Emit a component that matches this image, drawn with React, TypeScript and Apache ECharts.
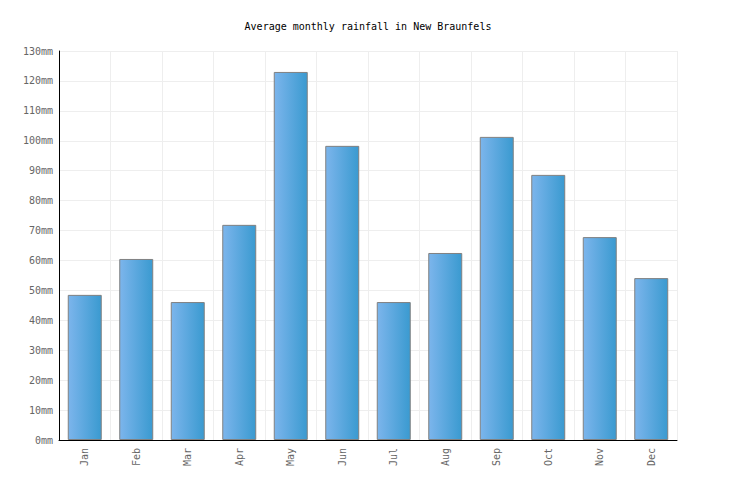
import React, { useEffect, useRef } from "react";
import * as echarts from "echarts";

const months = ["Jan", "Feb", "Mar", "Apr", "May", "Jun", "Jul", "Aug", "Sep", "Oct", "Nov", "Dec"];
const rainfall = [48.5, 60.5, 46.1, 71.9, 123, 98.3, 46.1, 62.5, 101.3, 88.6, 67.8, 54.1];
const yMin = 0;
const yMax = 130;
const yStep = 10;

export default function App() {
  const ref = useRef<HTMLDivElement>(null);
  useEffect(() => {
    if (!ref.current) return;
    const chart = echarts.init(ref.current, null, { renderer: "svg" });
    const font = "DejaVu Sans Mono";
    chart.setOption({
      animation: false,
      backgroundColor: "#ffffff",
      title: {
        text: "Average monthly rainfall in New Braunfels",
        left: "center",
        top: 16,
        textStyle: { fontFamily: font, fontSize: 10, fontWeight: "normal", color: "#000" },
      },
      grid: { left: 59, right: 59, top: 51, bottom: 60, containLabel: false },
      xAxis: {
        type: "category",
        data: months,
        axisLine: { show: true, lineStyle: { color: "#000", width: 1 } },
        axisTick: { show: false },
        splitLine: { show: true, interval: 0, lineStyle: { color: "#eeeeee", width: 1 } },
        axisLabel: {
          rotate: 90,
          interval: 0,
          margin: 8,
          fontFamily: font,
          fontSize: 10,
          color: "#666",
        },
      },
      yAxis: {
        type: "value",
        min: yMin,
        max: yMax,
        interval: yStep,
        axisLine: { show: true, lineStyle: { color: "#000", width: 1 } },
        axisTick: { show: false },
        splitLine: { show: true, lineStyle: { color: "#eeeeee", width: 1 } },
        axisLabel: {
          formatter: (v: number) => `${v}mm`,
          margin: 6,
          fontFamily: font,
          fontSize: 10,
          color: "#666",
        },
      },
      series: [
        {
          type: "bar",
          data: rainfall,
          barWidth: "66%",
          itemStyle: {
            color: new echarts.graphic.LinearGradient(0, 0, 1, 0, [
              { offset: 0, color: "#7cb5ec" },
              { offset: 1, color: "#3a9ad0" },
            ]),
            borderColor: "#808080",
            borderWidth: 1,
          },
        },
      ],
    });
    return () => chart.dispose();
  }, []);
  return (
    <div
      ref={ref}
      style={{ position: "fixed", left: 0, top: 0, width: 736, height: 500 }}
    />
  );
}
